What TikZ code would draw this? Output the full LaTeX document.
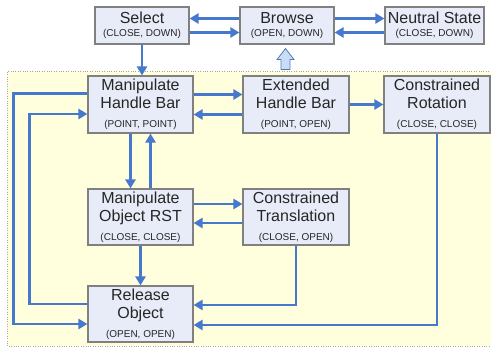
\documentclass[tikz,border=0pt]{standalone}
\usepackage{fontspec}
\setmainfont{Liberation Sans}
\usetikzlibrary{arrows.meta}
\definecolor{flow}{RGB}{70,120,205}
\definecolor{boxfill}{RGB}{232,236,248}
\definecolor{zone}{RGB}{255,255,222}
\definecolor{upfill}{RGB}{200,222,248}
\newcommand{\lbl}[1]{{\fontsize{10}{11}\selectfont #1}}
\begin{document}
\begin{tikzpicture}[x=1pt,y=1pt,
  stbox/.style={draw=black!50, fill=boxfill, line width=1.1pt, inner sep=0pt,
    align=center, text=black!85, font=\fontsize{16}{18}\selectfont},
  flw/.style={draw=flow, line width=2.3pt, -{Triangle[length=9pt,width=10pt]}}]
   \useasboundingbox (0,0) rectangle (491,348);
   \fill[zone] (7,2) rectangle (491,277);
   \draw[black!35, dotted] (491,277) -- (7,277) -- (7,2) -- (491,2);

   \node[stbox, minimum width=94, minimum height=37] (sel) at (142,322.5) {Select\\[-5pt]\lbl{(CLOSE, DOWN)}};
   \node[stbox, minimum width=94, minimum height=37] (brw) at (287,322.5) {Browse\\[-5pt]\lbl{(OPEN, DOWN)}};
   \node[stbox, minimum width=99, minimum height=37] (neu) at (434.5,322.5) {Neutral State\\[-5pt]\lbl{(CLOSE, DOWN)}};
   \node[stbox, minimum width=105, minimum height=57] (mhb) at (140.5,243.5) {Manipulate\\Handle Bar\\[1pt]\lbl{(POINT, POINT)}};
   \node[stbox, minimum width=106, minimum height=57] (ehb) at (296,243.5) {Extended\\Handle Bar\\[1pt]\lbl{(POINT, OPEN)}};
   \node[stbox, minimum width=106, minimum height=57] (cr) at (437,243.5) {Constrained\\Rotation\\[1pt]\lbl{(CLOSE, CLOSE)}};
   \node[stbox, minimum width=105, minimum height=56] (mor) at (140.5,131) {Manipulate\\Object RST\\[1pt]\lbl{(CLOSE, CLOSE)}};
   \node[stbox, minimum width=106, minimum height=56] (ct) at (296,131) {Constrained\\Translation\\[1pt]\lbl{(CLOSE, OPEN)}};
   \node[stbox, minimum width=105, minimum height=56] (rel) at (140.5,34) {Release\\Object\\[1pt]\lbl{(OPEN, OPEN)}};

   \draw[flw] ([yshift=7]brw.west) -- ([yshift=7]sel.east);
   \draw[flw] ([yshift=-7]sel.east) -- ([yshift=-7]brw.west);
   \draw[flw] ([yshift=7]brw.east) -- ([yshift=7]neu.west);
   \draw[flw] ([yshift=-7]neu.west) -- ([yshift=-7]brw.east);
   \draw[flw] (sel.south) -- (sel.south |- mhb.north);
   \draw[draw=flow!70!gray, line width=0.8pt, fill=upfill, shift={(brw.south)}]
     (-1.5,-4) -- (-10,-15) -- (-6,-15) -- (-6,-25) -- (3,-25) -- (3,-15) -- (7,-15) -- cycle;

   \draw[flw] ([yshift=10]mhb.east) -- ([yshift=10]ehb.west);
   \draw[flw] ([yshift=-10]ehb.west) -- ([yshift=-10]mhb.east);
   \draw[flw] (ehb.east) -- (cr.west);
   \draw[flw] ([xshift=-10]mhb.south) -- ([xshift=-10]mor.north);
   \draw[flw] ([xshift=10]mor.north) -- ([xshift=10]mhb.south);
   \draw[flw] ([yshift=13]mor.east) -- ([yshift=13]ct.west);
   \draw[flw] ([yshift=-6]ct.west) -- ([yshift=-6]mor.east);
   \draw[flw] (mor.south) -- (rel.north);
   \draw[flw] ([yshift=11]mhb.west) -- ++(-74,0) |- ([yshift=-10]rel.west);
   \draw[flw] ([yshift=10]rel.west) -- ++(-58,0) |- ([yshift=-9.5]mhb.west);
   \draw[flw] (ct.south) |- ([yshift=9]rel.east);
   \draw[flw] (cr.south) |- ([yshift=-11]rel.east);
\end{tikzpicture}
\end{document}
